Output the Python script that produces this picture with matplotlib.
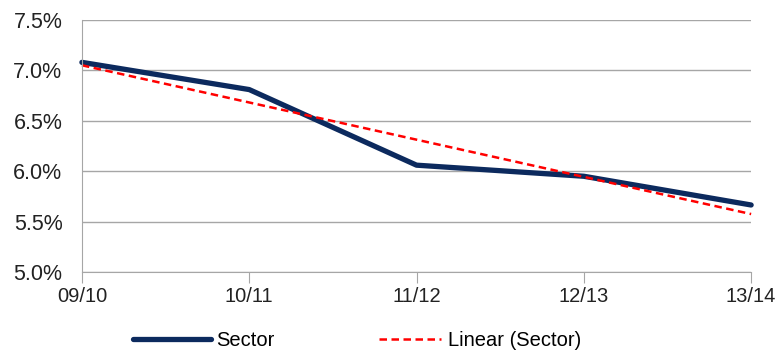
import numpy as np
import matplotlib
matplotlib.use("Agg")
import matplotlib.pyplot as plt
from matplotlib.ticker import FuncFormatter

plt.rcParams["font.family"] = ["Liberation Sans", "DejaVu Sans"]

years = ["09/10", "10/11", "11/12", "12/13", "13/14"]
sector = [7.08, 6.81, 6.06, 5.95, 5.665]

x = np.arange(len(years))
slope, intercept = np.polyfit(x, sector, 1)
trend = slope * x + intercept

fig = plt.figure(figsize=(7.8, 3.51), dpi=100)
ax = fig.add_axes([0.105, 0.225, 0.858, 0.718])

grid_c = "#a6a6a6"
ax.set_ylim(5.0, 7.5)
ax.set_xlim(0, len(years) - 1)
ax.set_yticks(np.arange(5.0, 7.51, 0.5))
ax.yaxis.set_major_formatter(FuncFormatter(lambda v, _: f"{v:.1f}%"))
ax.set_xticks(x)
ax.set_xticklabels(years)
ax.grid(axis="y", color=grid_c, lw=1)
ax.set_axisbelow(True)
for s in ("top", "right"):
    ax.spines[s].set_visible(False)
for s in ("left", "bottom"):
    ax.spines[s].set_color(grid_c)
ax.tick_params(axis="y", length=0, labelsize=15.5, pad=14, colors="#222222")
ax.tick_params(axis="x", length=8, color=grid_c, labelsize=14.5, pad=3, labelcolor="#222222")

l1, = ax.plot(x, sector, color="#0c2a5e", lw=3.8, solid_capstyle="round", clip_on=False)
l2, = ax.plot(x, trend, color="#ff0000", lw=1.8, ls=(0, (3, 1.8)), clip_on=False)

fig.legend([l1], ["Sector"], loc="center left", bbox_to_anchor=(0.16, 0.03),
           frameon=False, fontsize=14.5, handlelength=3.9, handletextpad=0.25, borderaxespad=0)
fig.legend([l2], ["Linear (Sector)"], loc="center left", bbox_to_anchor=(0.475, 0.03),
           frameon=False, fontsize=14.5, handlelength=3.1, handletextpad=0.35, borderaxespad=0)

fig.savefig("out.png", dpi=100)
